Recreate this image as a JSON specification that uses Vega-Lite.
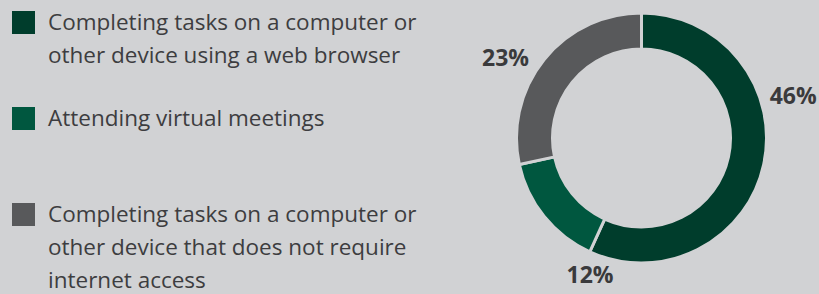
{
  "$schema": "https://vega.github.io/schema/vega-lite/v6.json",
  "autosize": {"type": "none"},
  "padding": {"left": 464, "top": 0, "right": 0, "bottom": 18},
  "width": 355,
  "height": 276,
  "background": "#D1D2D4",
  "config": {
    "view": {"stroke": null},
    "style": {"guide-label": {"lineHeight": 33, "dy": -11}}
  },
  "data": {
    "values": [
      {"idx": 0, "cat": "Completing tasks on a computer or other device using a web browser", "value": 46, "pct": "46%"},
      {"idx": 1, "cat": "Attending virtual meetings", "value": 12, "pct": "12%"},
      {"idx": 2, "cat": "Completing tasks on a computer or other device that does not require internet access", "value": 23, "pct": "23%"}
    ]
  },
  "layer": [
    {
      "mark": {"type": "arc", "outerRadius": 125, "innerRadius": 89, "stroke": "#D1D2D4", "strokeWidth": 3},
      "encoding": {
        "theta": {"field": "value", "type": "quantitative", "stack": true},
        "order": {"field": "idx", "type": "quantitative"},
        "color": {
          "field": "cat",
          "type": "nominal",
          "sort": null,
          "scale": {
            "domain": [
              "Completing tasks on a computer or other device using a web browser",
              "Attending virtual meetings",
              "Completing tasks on a computer or other device that does not require internet access"
            ],
            "range": ["#003D2C", "#00573F", "#58595B"]
          },
          "legend": {
            "orient": "none",
            "legendX": -452,
            "legendY": 11,
            "title": null,
            "symbolType": "square",
            "symbolSize": 529,
            "symbolStrokeWidth": 0,
            "symbolOpacity": 1,
            "labelFont": "Open Sans",
            "labelFontSize": 22.5,
            "labelColor": "#3D3D40",
            "labelLimit": 0,
            "labelOffset": 13,
            "labelBaseline": "top",
            "gridAlign": "all",
            "rowPadding": 7,
            "labelExpr": "datum.label == 'Completing tasks on a computer or other device using a web browser' ? ['Completing tasks on a computer or', 'other device using a web browser'] : datum.label == 'Attending virtual meetings' ? ['Attending virtual meetings'] : ['Completing tasks on a computer or', 'other device that does not require', 'internet access']"
          }
        }
      }
    },
    {
      "transform": [
        {"window": [{"op": "sum", "field": "value", "as": "cum"}], "sort": [{"field": "idx"}], "frame": [null, 0]},
        {"filter": "datum.idx == 0"}
      ],
      "mark": {"type": "text", "radius": 157, "thetaOffset": -2.259, "font": "Open Sans", "fontWeight": "bold", "fontSize": 23, "color": "#3A3A3C", "align": "center", "baseline": "middle"},
      "encoding": {
        "theta": {"field": "cum", "type": "quantitative", "stack": null},
        "text": {"field": "pct"}
      }
    },
    {
      "transform": [
        {"window": [{"op": "sum", "field": "value", "as": "cum"}], "sort": [{"field": "idx"}], "frame": [null, 0]},
        {"filter": "datum.idx == 1"}
      ],
      "mark": {"type": "text", "radius": 147, "thetaOffset": -1.0, "font": "Open Sans", "fontWeight": "bold", "fontSize": 23, "color": "#3A3A3C", "align": "center", "baseline": "middle"},
      "encoding": {
        "theta": {"field": "cum", "type": "quantitative", "stack": null},
        "text": {"field": "pct"}
      }
    },
    {
      "transform": [
        {"window": [{"op": "sum", "field": "value", "as": "cum"}], "sort": [{"field": "idx"}], "frame": [null, 0]},
        {"filter": "datum.idx == 2"}
      ],
      "mark": {"type": "text", "radius": 157, "thetaOffset": -1.047, "font": "Open Sans", "fontWeight": "bold", "fontSize": 23, "color": "#3A3A3C", "align": "center", "baseline": "middle"},
      "encoding": {
        "theta": {"field": "cum", "type": "quantitative", "stack": null},
        "text": {"field": "pct"}
      }
    }
  ]
}
